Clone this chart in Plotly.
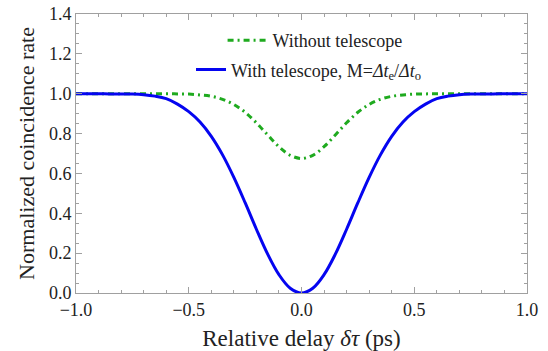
import plotly.graph_objects as go

# Relative delay (ps)
delay = [-1.00, -0.95, -0.90, -0.85, -0.80, -0.75, -0.70, -0.65, -0.60, -0.55,
         -0.50, -0.45, -0.40, -0.35, -0.30, -0.25, -0.20, -0.15, -0.10, -0.05,
         0.00, 0.05, 0.10, 0.15, 0.20, 0.25, 0.30, 0.35, 0.40, 0.45,
         0.50, 0.55, 0.60, 0.65, 0.70, 0.75, 0.80, 0.85, 0.90, 0.95, 1.00]

# Normalized coincidence rate, with telescope (solid blue)
with_telescope = [1.000, 1.000, 1.000, 0.999, 0.999, 0.998, 0.995, 0.988, 0.975, 0.948,
                  0.910, 0.858, 0.786, 0.693, 0.580, 0.453, 0.320, 0.195, 0.092, 0.024,
                  0.000, 0.024, 0.092, 0.195, 0.320, 0.453, 0.580, 0.693, 0.786, 0.858,
                  0.910, 0.948, 0.975, 0.988, 0.995, 0.998, 0.999, 0.999, 1.000, 1.000, 1.000]

# Normalized coincidence rate, without telescope (green dash-dot)
without_telescope = [1.000, 1.000, 1.000, 1.000, 1.000, 1.000, 1.000, 1.000, 1.000, 0.999,
                     0.998, 0.994, 0.987, 0.972, 0.946, 0.907, 0.854, 0.793, 0.734, 0.691,
                     0.675, 0.691, 0.734, 0.793, 0.854, 0.907, 0.946, 0.972, 0.987, 0.994,
                     0.998, 0.999, 1.000, 1.000, 1.000, 1.000, 1.000, 1.000, 1.000, 1.000, 1.000]

x_ticks = [-1.0, -0.5, 0.0, 0.5, 1.0]
y_ticks = [0.0, 0.2, 0.4, 0.6, 0.8, 1.0, 1.2, 1.4]

FONT = "Liberation Serif, Times New Roman, serif"
GREEN = "#1faa1f"
BLUE = "#0505f0"
AXIS = "#a0a0a0"
TXT = "#222222"

fig = go.Figure()
fig.add_trace(go.Scatter(
    x=delay, y=without_telescope, mode="lines", line_shape="spline",
    line=dict(color=GREEN, width=3, dash="6px,4px,2px,4px"),
    name="Without telescope", legend="legend", showlegend=True))
fig.add_trace(go.Scatter(
    x=delay, y=with_telescope, mode="lines", line_shape="spline",
    line=dict(color=BLUE, width=3),
    name="With telescope, M=<i>Δt</i><sub>e</sub>/<i>Δt</i><sub>o</sub>",
    legend="legend2", showlegend=True))

axis_common = dict(
    showline=True, linecolor=AXIS, linewidth=1, mirror="allticks",
    ticks="inside", ticklen=6, tickcolor=AXIS, showgrid=False, zeroline=False,
    tickfont=dict(family=FONT, size=18, color=TXT), automargin=False,
)

fig.update_xaxes(
    range=[-1, 1], tickvals=x_ticks, tickformat=".1f",
    minor=dict(ticks="inside", ticklen=3, dtick=0.1, tickcolor=AXIS, showgrid=False),
    title=dict(text="Relative delay <i>δτ</i> (ps)", font=dict(family=FONT, size=23, color=TXT), standoff=22),
    **axis_common)
fig.update_yaxes(
    range=[0, 1.4], tickvals=y_ticks, tickformat=".1f",
    minor=dict(ticks="inside", ticklen=3, dtick=0.05, tickcolor=AXIS, showgrid=False),
    title=dict(text="Normalized coincidence rate", font=dict(family=FONT, size=22, color=TXT), standoff=8),
    **axis_common)

fig.update_layout(
    width=548, height=351,
    margin=dict(l=76, r=21, t=14, b=58),
    paper_bgcolor="white", plot_bgcolor="white",
    font=dict(family=FONT, color=TXT),
    showlegend=True,
    legend=dict(x=0.325, y=0.905, xanchor="left", yanchor="middle",
                bgcolor="rgba(0,0,0,0)", font=dict(family=FONT, size=18, color=TXT),
                itemwidth=40),
    legend2=dict(x=0.255, y=0.800, xanchor="left", yanchor="middle",
                 bgcolor="rgba(0,0,0,0)", font=dict(family=FONT, size=18, color=TXT),
                 itemwidth=30),
)

fig.write_html("out.html")
